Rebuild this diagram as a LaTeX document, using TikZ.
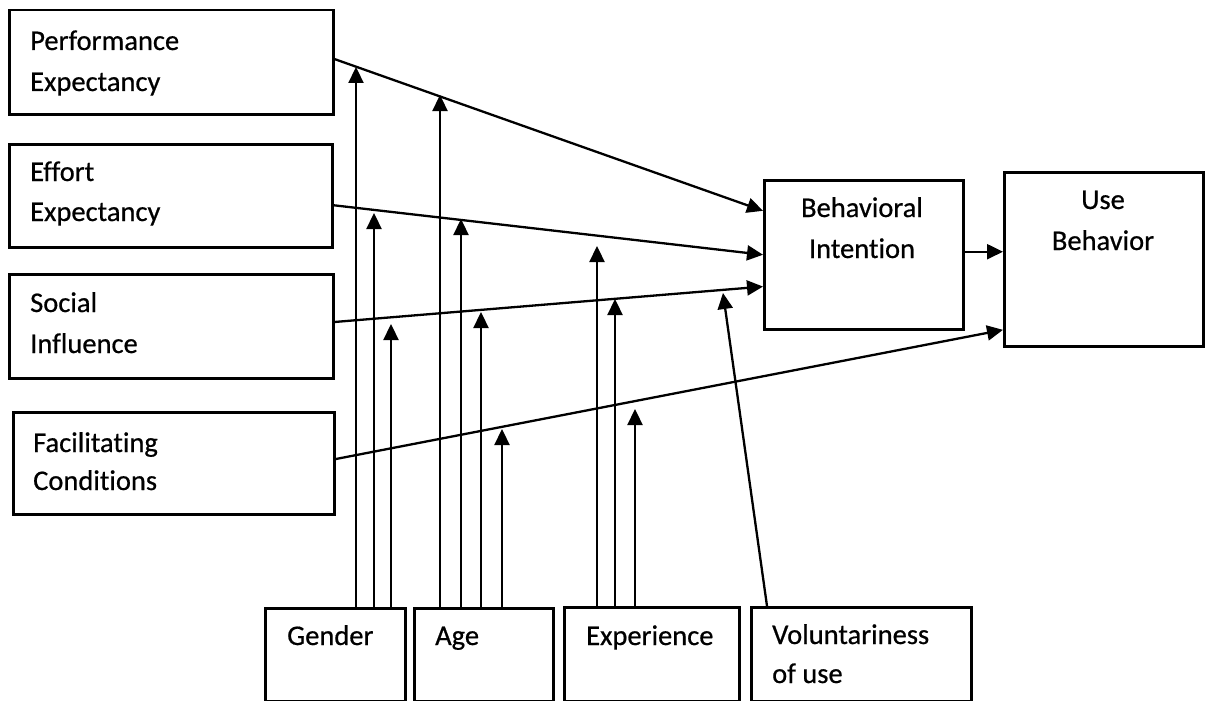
\documentclass[tikz,border=0pt]{standalone}
\usepackage{fontspec}
\setmainfont{Carlito}[Ligatures={NoCommon},FakeBold=0.6]
\usetikzlibrary{arrows.meta,calc}
\begin{document}
\begin{tikzpicture}[x=1pt,y=-1pt,
  box/.style={draw,line width=2.5pt,rectangle,inner sep=0pt,anchor=north west},
  lbl/.style={inner sep=0pt,anchor=base west,font=\fontsize{28.5}{34}\selectfont},
  clbl/.style={lbl,anchor=base},
  arr/.style={line width=2.3pt,-{Triangle[length=16pt,width=15pt]}}]
\useasboundingbox (0,0) rectangle (1205,701);

% boxes
\node[box,minimum width=324pt,minimum height=104pt] (pe) at (8,9) {};
\node[box,minimum width=323pt,minimum height=103pt] (ee) at (8,143) {};
\node[box,minimum width=324pt,minimum height=104pt] (si) at (8,273) {};
\node[box,minimum width=321pt,minimum height=102pt] (fc) at (12,411) {};
\node[box,minimum width=199pt,minimum height=149pt] (bi) at (763,179) {};
\node[box,minimum width=199pt,minimum height=174pt] (ub) at (1003,171) {};
\node[box,minimum width=140pt,minimum height=93pt] (gen) at (264,607) {};
\node[box,minimum width=139pt,minimum height=93pt] (age) at (413,607) {};
\node[box,minimum width=175pt,minimum height=94pt] (exp) at (563,606) {};
\node[box,minimum width=220pt,minimum height=94pt] (vol) at (750,606) {};

% labels
\node[lbl] (pe1) at (30,50) {Performance};
\node[lbl] (pe2) at (30,91) {Expectancy};
\node[lbl] (ee1) at (30,181) {Effort};
\node[lbl] (ee2) at (30,221) {Expectancy};
\node[lbl] (si1) at (30,312) {Social};
\node[lbl] (si2) at (30,353) {Influence};
\node[lbl] (fc1) at (33,452) {Facilitating};
\node[lbl] (fc2) at (33,490) {Conditions};
\node[clbl] (bi1) at (862,217) {Behavioral};
\node[clbl] (bi2) at (862,258) {Intention};
\node[clbl] (ub1) at (1103,209) {Use};
\node[clbl] (ub2) at (1103,250) {Behavior};
\node[lbl] (gen1) at (287,645) {Gender};
\node[lbl] (age1) at (435,645) {Age};
\node[lbl] (exp1) at (586,645) {Experience};
\node[lbl] (vol1) at (772,644) {Voluntariness};
\node[lbl] (vol2) at (772,683) {of use};

% main paths
\draw[arr] ($(pe.north east)!0.47!(pe.south east)$) -- ($(bi.north west)!0.21!(bi.south west)$);
\draw[arr] ($(ee.north east)!0.59!(ee.south east)$) -- (bi.west);
\draw[arr] ($(si.north east)!0.46!(si.south east)$) -- ($(bi.north west)!0.71!(bi.south west)$);
\draw[arr] ($(fc.north east)!0.46!(fc.south east)$) -- ($(ub.north west)!0.9!(ub.south west)$);
\coordinate (biE) at ($(bi.north east)!0.48!(bi.south east)$);
\draw[arr] (biE) -- (biE -| ub.west);

% moderator tips
\coordinate (g1) at (356,67);
\coordinate (g2) at (374,213);
\coordinate (g3) at (391,324);
\coordinate (a1) at (440,95);
\coordinate (a2) at (461,219);
\coordinate (a3) at (481,312);
\coordinate (a4) at (502,429);
\coordinate (e1) at (597,246);
\coordinate (e2) at (615,299);
\coordinate (e3) at (635,409);
\coordinate (v1) at (723,293);

\draw[arr] (gen.north -| g1) -- (g1);
\draw[arr] (gen.north -| g2) -- (g2);
\draw[arr] (gen.north -| g3) -- (g3);
\draw[arr] (age.north -| a1) -- (a1);
\draw[arr] (age.north -| a2) -- (a2);
\draw[arr] (age.north -| a3) -- (a3);
\draw[arr] (age.north -| a4) -- (a4);
\draw[arr] (exp.north -| e1) -- (e1);
\draw[arr] (exp.north -| e2) -- (e2);
\draw[arr] (exp.north -| e3) -- (e3);
\draw[arr] ($(vol.north west)+(17,0)$) -- (v1);
\end{tikzpicture}
\end{document}
